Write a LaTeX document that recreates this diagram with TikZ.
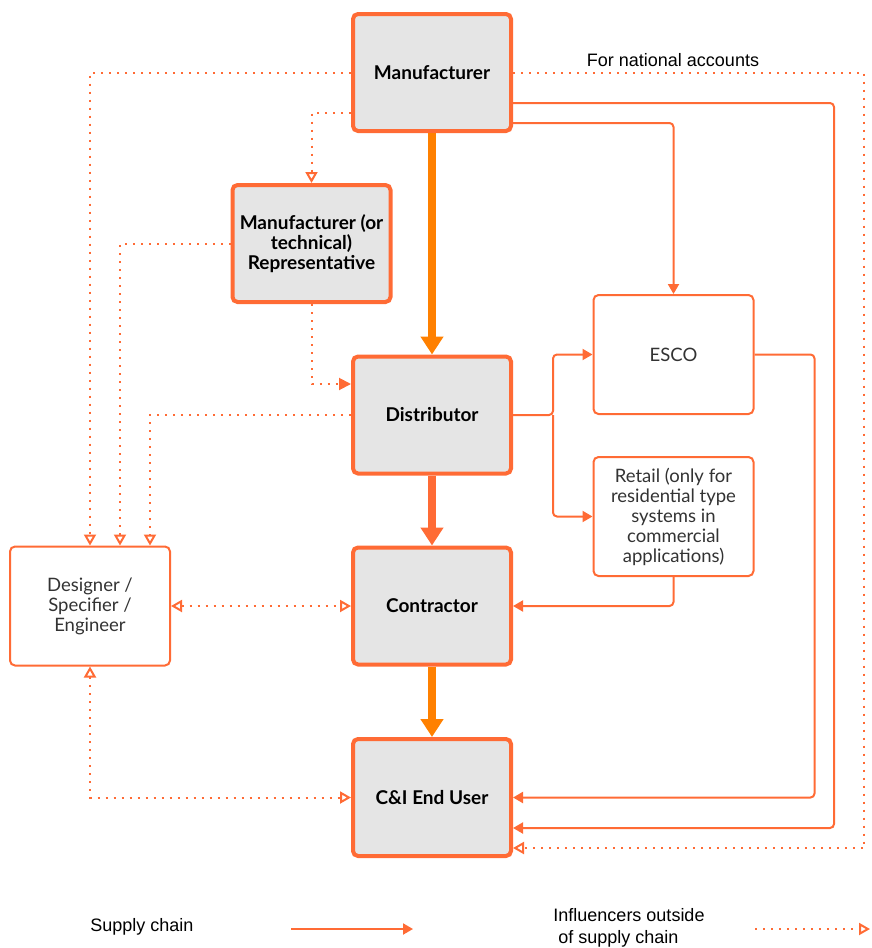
\documentclass[tikz,border=0pt]{standalone}
\usepackage{fontspec}
\setmainfont{Lato}
\newfontfamily\legendfont{Liberation Sans}
\usetikzlibrary{arrows.meta}
\definecolor{brand}{HTML}{FF6B35}
\definecolor{flow}{HTML}{FF8000}
\definecolor{boxgray}{HTML}{E5E5E5}
\definecolor{txtgray}{HTML}{333333}

\begin{document}
\begin{tikzpicture}[x=1pt, y=-1pt,
  keybox/.style={draw=brand, line width=4pt, fill=boxgray, rounded corners=5pt,
    minimum width=158pt, minimum height=117pt, align=center,
    font=\fontsize{19}{20}\selectfont\bfseries},
  sidebox/.style={draw=brand, line width=2pt, fill=white, rounded corners=5pt,
    minimum width=160pt, minimum height=119pt, align=center, text=txtgray,
    font=\fontsize{18.5}{20}\selectfont},
  mainflow/.style={draw=flow, line width=8pt, -{Triangle[length=18pt,width=22pt]}},
  supply/.style={draw=brand, line width=2pt, rounded corners=4pt,
    >={Triangle[length=10pt,width=11pt]}, ->},
  influence/.style={draw=brand, line width=2pt, dash pattern=on 2pt off 6pt,
    >={Triangle[open,length=11pt,width=12pt]}, ->},
  legendtext/.style={font=\legendfont\fontsize{18}{22}\selectfont, align=left}]
  \useasboundingbox (0,0) rectangle (871,948);

  % boxes
  \node[keybox] (man) at (432,72.5) {Manufacturer};
  \node[keybox] (rep) at (311.5,243.5) {Manufacturer (or\\technical)\\Representative};
  \node[keybox] (dist) at (432,415) {Distributor};
  \node[keybox] (con) at (432,606) {Contractor};
  \node[keybox] (user) at (432,797.5) {C\&I End User};
  \node[sidebox] (esco) at (673.5,354.5) {ESCO};
  \node[sidebox] (retail) at (673.5,516.5) {Retail (only for\\residential type\\systems in\\commercial\\applications)};
  \node[sidebox] (des) at (90,606) {Designer /\\Specifier /\\Engineer};

  % supply chain
  \draw[mainflow] (man.south) -- (dist.north);
  \draw[mainflow, draw=brand] (dist.south) -- (con.north);
  \draw[mainflow] (con.south) -- (user.north);
  \draw[supply] ([yshift=-30.5pt]man.east) -| (834,828) -- ([yshift=-30.5pt]user.east);
  \draw[supply] ([yshift=-50.5pt]man.east) -| (esco.north);
  \coordinate (split) at ([xshift=40pt]dist.east);
  \draw[supply] (dist.east) -- (split) |- (esco.west);
  \draw[supply] (split) |- (retail.west);
  \draw[supply] (esco.east) -| ([xshift=60pt]esco.east |- user.east) -- (user.east);
  \draw[supply] (retail.south) |- (con.east);

  % influencers
  \draw[influence] (man.east) -| (864,848) -- ([yshift=-50.5pt]user.east);
  \node[legendtext] (natl) at (673,60) {For national accounts};
  \draw[influence] (man.west) -| (des.north);
  \draw[influence] ([yshift=-40.5pt]man.west) -| (rep.north);
  \draw[influence] (rep.west) -| ([xshift=30pt]des.north);
  \draw[influence, -{Triangle[length=12pt,width=12pt]}] (rep.south) |- ([yshift=31pt]dist.west);
  \draw[influence] (dist.west) -| ([xshift=60pt]des.north);
  \draw[influence, <->] (des.east) -- (con.west);
  \draw[influence, <->] (des.south) |- (user.west);

  % legend
  \node[legendtext] (lsupply) at (142,927) {Supply chain};
  \coordinate (ls0) at (291,929);
  \coordinate (ls1) at (413,929);
  \draw[supply] (ls0) -- (ls1);
  \node[legendtext] (linfl) at (629,928) {Influencers outside\\\ of supply chain};
  \coordinate (li0) at (755,929);
  \coordinate (li1) at (870,929);
  \draw[influence] (li0) -- (li1);
\end{tikzpicture}
\end{document}
